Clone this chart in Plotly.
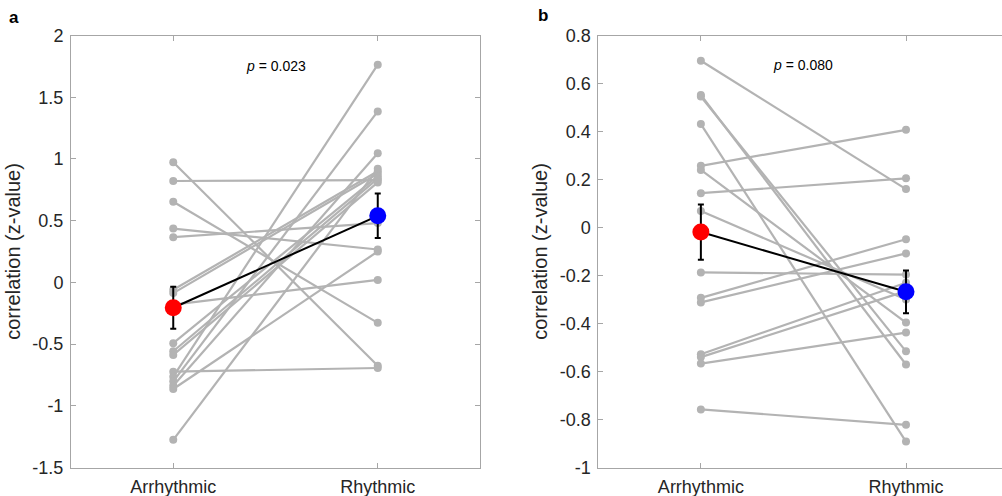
import plotly.graph_objects as go

# Condition labels
categories = ["Arrhythmic", "Rhythmic"]

# Panel a: per-subject correlations (z-values)
arr_a = [0.973, 0.821, 0.653, 0.436, 0.366, -0.060, -0.087, -0.180, -0.493,
         -0.558, -0.588, -0.724, -0.764, -0.802, -0.837, -0.864, -1.276]
rhy_a = [-0.675, 0.829, -0.328, 0.266, 0.480, 0.900, 0.880, 0.020, 0.860,
         0.840, 0.810, -0.694, 1.764, 1.385, 1.046, 0.250, 0.920]
mean_a = [-0.206, 0.539]
sem_a = [0.170, 0.180]
p_a = "0.023"

# Panel b: per-subject correlations (z-values)
arr_b = [0.695, 0.552, 0.546, 0.431, 0.257, 0.240, 0.143, 0.069, -0.187,
         -0.293, -0.312, -0.528, -0.540, -0.567, -0.758]
rhy_b = [0.160, -0.571, -0.516, -0.892, 0.407, -0.396, 0.205, -0.300, -0.196,
         -0.049, -0.108, -0.230, -0.265, -0.438, -0.822]
mean_b = [-0.019, -0.268]
sem_b = [0.115, 0.089]
p_b = "0.080"

yticks_a = [-1.5, -1, -0.5, 0, 0.5, 1, 1.5, 2]
yticks_b = [-1, -0.8, -0.6, -0.4, -0.2, 0, 0.2, 0.4, 0.6, 0.8]

W, H = 1002, 496
GRAY = "#b3b3b3"
AXIS = "#a6a6a6"
TXT = "#262626"
FONT = "Liberation Sans, Arial, sans-serif"

xpos = [1, 2]


def px_x(p):
    return p / W


def px_y(p):
    return 1 - p / H


fig = go.Figure()


def add_panel(arr, rhy, mean, sem, xa, ya):
    # one grey segment per subject, then the group means with SEM bars
    xs, ys = [], []
    for a, r in zip(arr, rhy):
        xs += [xpos[0], xpos[1], None]
        ys += [a, r, None]
    fig.add_trace(go.Scatter(
        x=xs, y=ys, mode="lines+markers", xaxis=xa, yaxis=ya,
        line=dict(color=GRAY, width=2.2),
        marker=dict(color=GRAY, size=8),
        showlegend=False, hoverinfo="skip"))
    fig.add_trace(go.Scatter(
        x=xpos, y=mean, mode="lines+markers", xaxis=xa, yaxis=ya,
        line=dict(color="black", width=2),
        marker=dict(color=["#ff0000", "#0000ff"], size=17),
        error_y=dict(type="data", array=sem, color="black",
                     thickness=2, width=3),
        showlegend=False, hoverinfo="skip"))


add_panel(arr_a, rhy_a, mean_a, sem_a, "x", "y")
add_panel(arr_b, rhy_b, mean_b, sem_b, "x2", "y2")

ydom = [px_y(467.5), px_y(35.5)]
tickfont = dict(family=FONT, size=18, color=TXT)
titlefont = dict(family=FONT, size=20, color=TXT)

common_x = dict(
    tickmode="array", tickvals=xpos, ticktext=categories,
    ticks="inside", ticklen=5, tickcolor=AXIS, showline=True,
    linecolor=AXIS, linewidth=1, showgrid=False, zeroline=False,
    tickfont=tickfont, mirror="ticks", fixedrange=True, automargin=False,
    ticklabelstandoff=3,
)
common_y = dict(
    ticks="inside", ticklen=5, tickcolor=AXIS, showline=True,
    linecolor=AXIS, linewidth=1, showgrid=False, zeroline=False,
    tickfont=tickfont, fixedrange=True, automargin=False,
    ticklabelstandoff=3,
    title=dict(text="correlation (z-value)", font=titlefont, standoff=6),
)

label_font = dict(family=FONT, size=17, color="black")

fig.update_layout(
    width=W, height=H,
    margin=dict(l=0, r=0, t=0, b=0, pad=0, autoexpand=False),
    paper_bgcolor="white", plot_bgcolor="white",
    font=dict(family=FONT, color=TXT),
    xaxis=dict(domain=[px_x(71), px_x(480)], range=[0.5, 2.5],
               anchor="y", **common_x),
    yaxis=dict(domain=ydom, range=[-1.5, 2], anchor="x",
               tickvals=yticks_a, ticktext=[f"{v:g}" for v in yticks_a],
               mirror="ticks", **common_y),
    xaxis2=dict(domain=[px_x(598.3), 1.0], range=[0.5, 2.468],
                anchor="y2", **common_x),
    yaxis2=dict(domain=ydom, range=[-1, 0.8], anchor="x2",
                tickvals=yticks_b, ticktext=[f"{v:g}" for v in yticks_b],
                mirror=False, **common_y),
    annotations=[
        dict(text=f"<i>p</i> = {p_a}", x=1.5, y=1.755,
             xref="x", yref="y", showarrow=False,
             font=dict(family=FONT, size=14, color="black")),
        dict(text=f"<i>p</i> = {p_b}", x=1.5, y=0.675,
             xref="x2", yref="y2", showarrow=False,
             font=dict(family=FONT, size=14, color="black")),
        dict(text="<b>a</b>", x=px_x(14), y=px_y(17), xref="paper",
             yref="paper", showarrow=False, xanchor="center",
             yanchor="middle", font=label_font),
        dict(text="<b>b</b>", x=px_x(543), y=px_y(16), xref="paper",
             yref="paper", showarrow=False, xanchor="center",
             yanchor="middle", font=label_font),
    ],
)

fig.write_html("out.html")
